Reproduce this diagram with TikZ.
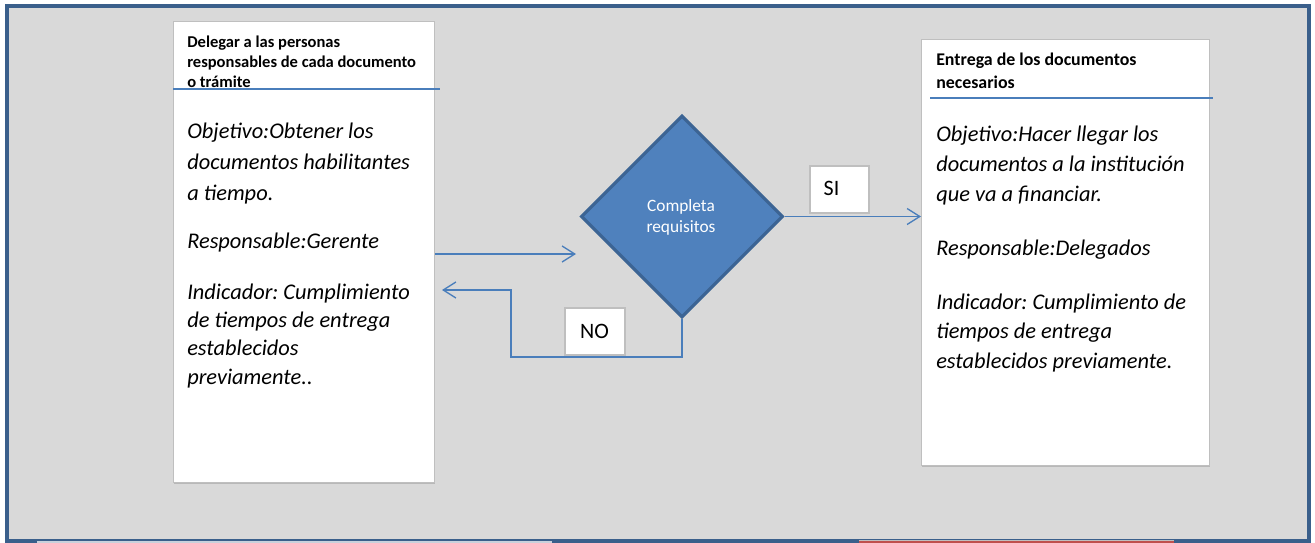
\documentclass[tikz,border=0pt]{standalone}
\usepackage{fontspec}
\setmainfont{Carlito}
\frenchspacing
\usetikzlibrary{shapes.geometric,arrows.meta,calc}
\definecolor{bg}{HTML}{D9D9D9}
\definecolor{frameblue}{HTML}{3A5F8B}
\definecolor{lineblue}{HTML}{4A7EBB}
\definecolor{dfill}{HTML}{4F81BD}
\definecolor{dborder}{HTML}{3C6494}
\definecolor{boxgray}{HTML}{BFBFBF}
\definecolor{barred}{HTML}{C0504D}
\definecolor{barlight}{HTML}{C9D1DC}
\tikzset{
  card/.style={draw=boxgray, fill=white, line width=0.9pt, anchor=north west, inner sep=0pt},
  shadowbox/.style={fill=black!28, anchor=north west, inner sep=0pt, draw=none},
  tag/.style={draw=boxgray, fill=white, line width=1.2pt, anchor=north west, inner sep=0pt},
  head/.style={anchor=base west, inner sep=0pt, align=left, font=\bfseries\fontsize{12.4}{15}\selectfont},
  body/.style={anchor=base west, inner sep=0pt, align=left, font=\itshape\fontsize{16.8}{22.8}\selectfont},
  conn/.style={draw=lineblue, line width=1pt},
  arr/.style={conn, -{Straight Barb[length=9.5pt, width=12pt, line width=1pt]}},
  rule/.style={draw=lineblue, line width=0.9pt},
}
\begin{document}
\begin{tikzpicture}[x=0.75pt, y=-0.75pt]
\useasboundingbox (0,0) rectangle (1315,543);
\fill[white] (0,0) rectangle (1315,543);
% frame
\fill[bg] (7,6) rectangle (1309,540);
\draw[frameblue, line width=3pt] (7,6) rectangle (1309,541);
\fill[barlight] (37,541) rectangle (552,543);
\fill[barred] (859,540.5) rectangle (1174,543);
\draw[boxgray, line width=0.6pt] (859,540) -- (1174,540);

% left card
\node[shadowbox, minimum width=261*0.75pt, minimum height=461*0.75pt] at (174,23) {};
\node[card, minimum width=261*0.75pt, minimum height=461*0.75pt] (L) at (173,21) {};
\draw[rule] (L.north west |- 0,89) -- (440,89);
\node[head] (Lh) at (187,87) {Delegar a las personas\\responsables de cada documento\\o trámite};
\node[body, font=\itshape\fontsize{16.8}{22.9}\selectfont] (Lo) at (187,200) {Objetivo:Obtener los\\documentos habilitantes\\a tiempo.};
\node[body] (Lr) at (187,248) {Responsable:Gerente};
\node[body, font=\itshape\fontsize{16.8}{21.2}\selectfont] (Li) at (187,384) {Indicador: Cumplimiento\\de tiempos de entrega\\establecidos\\previamente..};

% right card
\node[shadowbox, minimum width=288*0.75pt, minimum height=426*0.75pt] at (922,41) {};
\node[card, minimum width=288*0.75pt, minimum height=426*0.75pt] (R) at (921,39) {};
\draw[rule] (930,98) -- (1213,98);
\node[head, font=\bfseries\fontsize{13.4}{17.25}\selectfont] (Rh) at (936,88) {Entrega de los documentos\\necesarios};
\node[body, font=\itshape\fontsize{16.8}{22.5}\selectfont] (Ro) at (936,201.7) {Objetivo:Hacer llegar los\\documentos a la institución\\que va a financiar.};
\node[body] (Rr) at (936,255) {Responsable:Delegados};
\node[body, font=\itshape\fontsize{16.8}{21.8}\selectfont] (Ri) at (936,368) {Indicador: Cumplimiento de\\tiempos de entrega\\establecidos previamente.};

% decision
\node[diamond, aspect=1, fill=dfill, draw=dborder, line width=2.3pt, inner sep=0pt, minimum width=202*0.75pt, minimum height=202*0.75pt] (D) at (682,216.5) {};
\node[anchor=base, inner sep=0pt, align=center, text=white, font=\fontsize{13}{15.8}\selectfont] (Dt) at (681,232.7) {Completa\\requisitos};

% tags
\node[tag, minimum width=59*0.75pt, minimum height=47*0.75pt] (SI) at (809,165) {};
\node[anchor=base, inner sep=0pt, font=\fontsize{16.5}{20}\selectfont] (SIt) at (831.5,195) {SI};
\node[tag, minimum width=60*0.75pt, minimum height=47*0.75pt] (NO) at (564,307) {};
\node[anchor=base, inner sep=0pt, font=\fontsize{16.5}{20}\selectfont] (NOt) at (594.5,338) {NO};

% connectors
\coordinate (a1) at (576,254);
\draw[arr] (L.east |- a1) -- (a1);
\draw[arr] (D.east) -- (R.west |- D.east);
\coordinate (n1) at (511,357);
\coordinate (n2) at (442,290);
\draw[arr] (D.south) |- (n1) |- (n2);
\end{tikzpicture}
\end{document}
